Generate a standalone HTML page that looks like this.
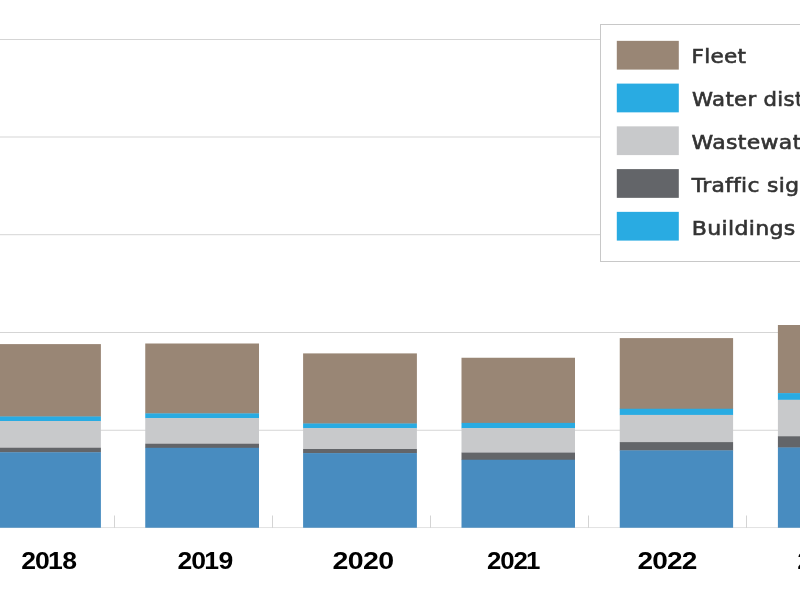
<!DOCTYPE html>
<html lang="en">
<head>
<meta charset="utf-8">
<title>Chart</title>
<style>
html,body{margin:0;padding:0;background:#fff;overflow:hidden;}
body{width:800px;height:600px;position:relative;}
svg{position:absolute;left:0;top:0;display:block;}
.lg{font-family:"DejaVu Sans","Liberation Sans",sans-serif;font-size:19.6px;fill:#333;letter-spacing:0.3px;stroke:#333;stroke-width:0.6px;}
.yr{font-family:"Liberation Sans",sans-serif;font-weight:bold;font-size:24.6px;fill:#000;}
</style>
</head>
<body>
<svg width="800" height="600" viewBox="0 0 800 600">
<rect x="0" y="0" width="800" height="600" fill="#ffffff"/>
<g fill="#d5d5d5">
<rect x="0" y="39.00" width="800" height="1"/>
<rect x="0" y="136.50" width="800" height="1"/>
<rect x="0" y="234.20" width="800" height="1"/>
<rect x="0" y="332.00" width="800" height="1"/>
<rect x="0" y="429.75" width="800" height="1"/>
<rect x="0" y="527.05" width="800" height="1" fill="#e2e2e2"/>
</g>
<g fill="#cacaca">
<rect x="114.20" y="515.5" width="0.8" height="12.2"/>
<rect x="272.10" y="515.5" width="0.8" height="12.2"/>
<rect x="430.20" y="515.5" width="0.8" height="12.2"/>
<rect x="588.10" y="515.5" width="0.8" height="12.2"/>
<rect x="746.10" y="515.5" width="0.8" height="12.2"/>
</g>
<g>
<rect x="-12.80" y="344.10" width="113.70" height="72.70" fill="#998675"/>
<rect x="-12.80" y="416.50" width="113.70" height="4.80" fill="#29ABE2"/>
<rect x="-12.80" y="421.00" width="113.70" height="27.05" fill="#C8C9CB"/>
<rect x="-12.80" y="447.75" width="113.70" height="4.80" fill="#636569"/>
<rect x="-12.80" y="452.25" width="113.70" height="75.50" fill="#488CC0"/>
</g>
<g>
<rect x="145.25" y="343.50" width="113.75" height="70.20" fill="#998675"/>
<rect x="145.25" y="413.40" width="113.75" height="5.00" fill="#29ABE2"/>
<rect x="145.25" y="418.10" width="113.75" height="25.95" fill="#C8C9CB"/>
<rect x="145.25" y="443.75" width="113.75" height="4.35" fill="#636569"/>
<rect x="145.25" y="447.80" width="113.75" height="79.95" fill="#488CC0"/>
</g>
<g>
<rect x="303.10" y="353.40" width="113.80" height="70.40" fill="#998675"/>
<rect x="303.10" y="423.50" width="113.80" height="4.90" fill="#29ABE2"/>
<rect x="303.10" y="428.10" width="113.80" height="21.20" fill="#C8C9CB"/>
<rect x="303.10" y="449.00" width="113.80" height="4.40" fill="#636569"/>
<rect x="303.10" y="453.10" width="113.80" height="74.65" fill="#488CC0"/>
</g>
<g>
<rect x="461.50" y="357.75" width="113.50" height="65.45" fill="#998675"/>
<rect x="461.50" y="422.90" width="113.50" height="5.50" fill="#29ABE2"/>
<rect x="461.50" y="428.10" width="113.50" height="24.80" fill="#C8C9CB"/>
<rect x="461.50" y="452.60" width="113.50" height="7.45" fill="#636569"/>
<rect x="461.50" y="459.75" width="113.50" height="68.00" fill="#488CC0"/>
</g>
<g>
<rect x="619.75" y="338.10" width="113.35" height="70.95" fill="#998675"/>
<rect x="619.75" y="408.75" width="113.35" height="6.45" fill="#29ABE2"/>
<rect x="619.75" y="414.90" width="113.35" height="27.50" fill="#C8C9CB"/>
<rect x="619.75" y="442.10" width="113.35" height="8.60" fill="#636569"/>
<rect x="619.75" y="450.40" width="113.35" height="77.35" fill="#488CC0"/>
</g>
<g>
<rect x="777.90" y="325.00" width="113.70" height="68.40" fill="#998675"/>
<rect x="777.90" y="393.10" width="113.70" height="6.95" fill="#29ABE2"/>
<rect x="777.90" y="399.75" width="113.70" height="36.80" fill="#C8C9CB"/>
<rect x="777.90" y="436.25" width="113.70" height="11.55" fill="#636569"/>
<rect x="777.90" y="447.50" width="113.70" height="80.25" fill="#488CC0"/>
</g>
<rect x="600.5" y="24.5" width="240" height="237" fill="#ffffff" stroke="#c8c8c8" stroke-width="1"/>
<rect x="616.8" y="40.85" width="62" height="28.75" fill="#998675"/>
<text class="lg" transform="translate(691.40,63.0) scale(1.1,1)">Fleet</text>
<rect x="616.8" y="83.60" width="62" height="28.75" fill="#29ABE2"/>
<text class="lg" transform="translate(692.10,105.6) scale(1.084,1)">Water distribution</text>
<rect x="616.8" y="126.35" width="62" height="28.75" fill="#C8C9CB"/>
<text class="lg" transform="translate(691.60,149.3) scale(1.121,1)">Wastewater treatment</text>
<rect x="616.8" y="169.10" width="62" height="28.75" fill="#636569"/>
<text class="lg" transform="translate(691.70,191.8) scale(1.112,1)">Traffic signals</text>
<rect x="616.8" y="211.85" width="62" height="28.75" fill="#29ABE2"/>
<text class="lg" transform="translate(691.70,235.0) scale(1.125,1)">Buildings</text>
<text class="yr" transform="translate(0,568.6) scale(1.08,1)" x="19.75 32.43 44.51 57.68" y="0">2018</text>
<text class="yr" transform="translate(0,568.6) scale(1.08,1)" x="164.42 177.10 189.18 202.28" y="0">2019</text>
<text class="yr" transform="translate(0,568.6) scale(1.16,1)" x="286.65 299.74 312.94 326.03" y="0">2020</text>
<text class="yr" transform="translate(0,568.6) scale(1.05,1)" x="463.81 476.39 489.07 501.08" y="0">2021</text>
<text class="yr" transform="translate(0,568.6) scale(1.14,1)" x="559.23 572.10 585.06 598.05" y="0">2022</text>
<text class="yr" transform="translate(0,568.6) scale(1.14,1)" x="699.45 712.19 725.02 738.17" y="0">2023</text>
</svg>
</body>
</html>
